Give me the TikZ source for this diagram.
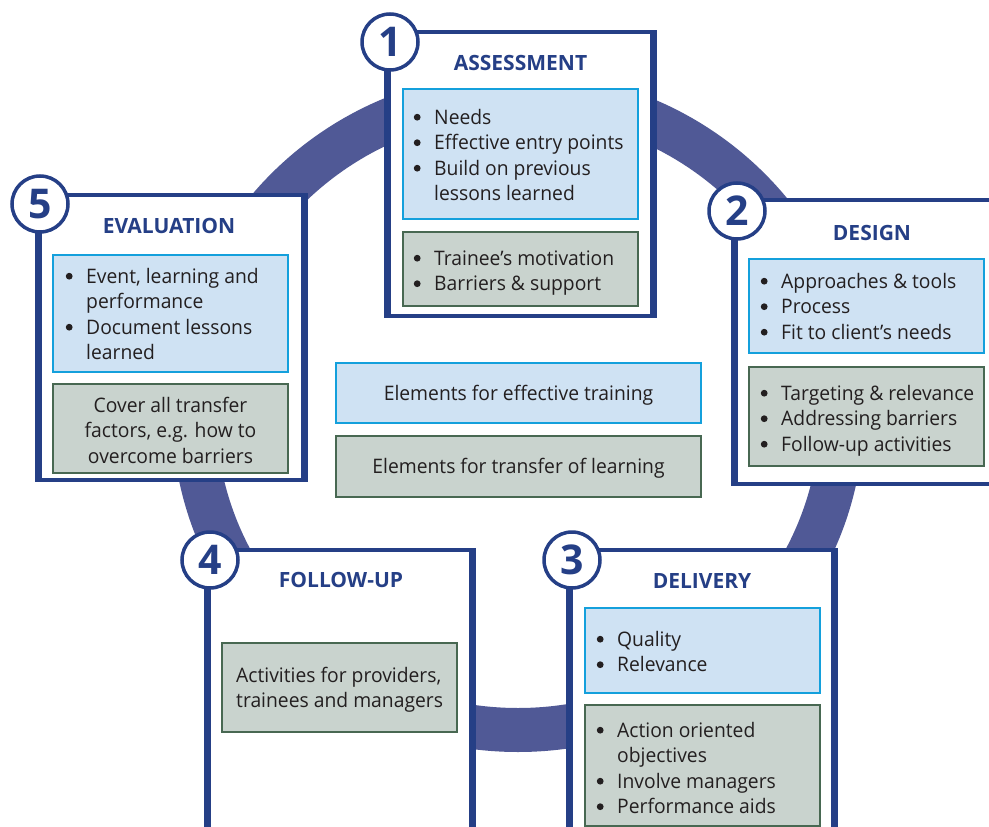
\documentclass[tikz,border=0pt]{standalone}
\usepackage{fontspec}
\setmainfont{Open Sans}[FakeStretch=0.965]
\newfontfamily\titlefont{Open Sans}
\definecolor{navy}{RGB}{37,63,134}
\definecolor{ringc}{RGB}{80,89,150}
\definecolor{bluefill}{RGB}{207,226,243}
\definecolor{blueline}{RGB}{20,160,220}
\definecolor{greenfill}{RGB}{201,211,206}
\definecolor{greenline}{RGB}{72,104,82}
\definecolor{txtc}{RGB}{35,31,32}
\newcommand{\fl}{\rule{0pt}{20pt}}
\newcommand{\bu}{\llap{\tikz[baseline=0pt]\fill[txtc] (0pt,7pt) circle[radius=3.4pt];\hspace{13.6pt}}}
\tikzset{
  obox/.style={draw=navy, fill=white, line width=4pt, rectangle, inner sep=0pt},
  oside/.style={draw=navy, line width=6.5pt},
  bbox/.style={draw=blueline, fill=bluefill, line width=2.5pt, rectangle, inner sep=0pt, minimum width=235pt},
  gbox/.style={draw=greenline, fill=greenfill, line width=2.5pt, rectangle, inner sep=0pt, minimum width=235pt},
  numc/.style={circle, draw=navy, fill=white, line width=3.5pt, minimum size=56pt, inner sep=0pt, text=navy, font=\titlefont\bfseries\fontsize{41}{41}\selectfont},
  ttl/.style={anchor=base, inner sep=0pt, text=navy, font=\titlefont\bfseries\fontsize{21}{21}\selectfont},
  body/.style={anchor=north west, inner sep=0pt, align=left, text=txtc, font=\fontsize{20}{25.5}\selectfont},
  cbody/.style={anchor=north, inner sep=0pt, align=center, text=txtc, font=\fontsize{20}{25.5}\selectfont},
}
\begin{document}
\begin{tikzpicture}[x=1pt, y=-1pt]
\useasboundingbox[fill=white] (0,0) rectangle (989,827);
\clip (0,0) rectangle (989,827);
% ring
\draw[ringc, line width=44pt] (518,412) ellipse [x radius=324, y radius=318];

% outer boxes
\node[obox, minimum width=263pt, minimum height=284pt] (b1) at (520.5,174) {};
\node[obox, minimum width=263pt, minimum height=285pt] (b5) at (171.5,337.5) {};
\node[obox, minimum width=263pt, minimum height=284pt] (b2) at (867.5,342) {};
\node[obox, minimum width=262pt, minimum height=300pt] (b4) at (340,700) {};
\node[obox, minimum width=262pt, minimum height=300pt] (b3) at (702,700) {};
\foreach \b in {b1,b5,b2,b4,b3}{
  \draw[oside] (\b.north west) -- (\b.south west);
  \draw[oside] (\b.north east) -- (\b.south east);
}

% inner boxes
\node[bbox, minimum height=130pt] (b1b) at (520.5,154) {};
\node[gbox, minimum height=74pt] (b1g) at (520.5,269) {};
\node[bbox, minimum height=117pt] (b5b) at (170.5,313.5) {};
\node[gbox, minimum height=89pt] (b5g) at (170.5,428.5) {};
\node[bbox, minimum height=94pt] (b2b) at (866.5,306) {};
\node[gbox, minimum height=99pt] (b2g) at (866.5,416.5) {};
\node[gbox, minimum height=89pt] (b4g) at (339.5,687.5) {};
\node[bbox, minimum height=85pt] (b3b) at (702.5,650.5) {};
\node[gbox, minimum height=121pt] (b3g) at (702.5,765.5) {};
\node[bbox, minimum width=365pt, minimum height=60pt] (lb) at (518.5,393) {};
\node[gbox, minimum width=365pt, minimum height=61pt] (lg) at (518.5,466.5) {};

% number circles
\node[numc] (n1) at (390,42) {1};
\node[numc] (n5) at (40,204) {5};
\node[numc] (n2) at (737,211) {2};
\node[numc] (n4) at (210,560) {4};
\node[numc] (n3) at (572,560) {3};

% titles
\node[ttl] (t1) at (520.5,70) {ASSESSMENT};
\node[ttl] (t5) at (169,233) {EVALUATION};
\node[ttl] (t2) at (872,240) {DESIGN};
\node[ttl] (t4) at (341,587) {FOLLOW-UP};
\node[ttl] (t3) at (702,588) {DELIVERY};

% body texts
\node[body] (x1b) at (434,104) {\fl\bu Needs\\\bu Effective entry points\\\bu Build on previous\\lessons learned};
\node[body] (x1g) at (434,245) {\fl\bu Trainee’s motivation\\\bu Barriers \& support};
\node[body] (x5b) at (86,263) {\fl\bu Event, learning and\\performance\\\bu Document lessons\\learned};
\node[cbody] (x5g) at (170.5,392) {\fl Cover all transfer\\factors, e.g. how to\\overcome barriers};
\node[body] (x2b) at (781,268) {\fl\bu Approaches \& tools\\\bu Process\\\bu Fit to client’s needs};
\node[body] (x2g) at (781,380) {\fl\bu Targeting \& relevance\\\bu Addressing barriers\\\bu Follow-up activities};
\node[body] (x4g) at (236,662) {\fl Activities for providers,\\trainees and managers};
\node[body] (x3b) at (617,626) {\fl\bu Quality\\\bu Relevance};
\node[body] (x3g) at (617,717) {\fl\bu Action oriented\\objectives\\\bu Involve managers\\\bu Performance aids};
\node[cbody] (xlb) at (518.5,380) {\fl Elements for effective training};
\node[cbody] (xlg) at (518.5,453) {\fl Elements for transfer of learning};
\end{tikzpicture}
\end{document}
